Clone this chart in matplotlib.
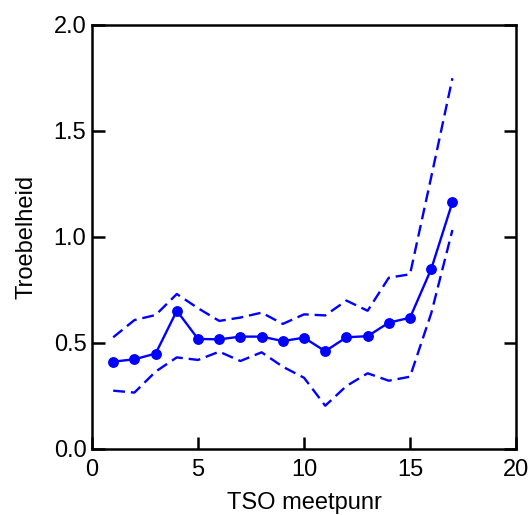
import matplotlib
matplotlib.use("Agg")
import matplotlib.pyplot as plt

plt.rcParams['font.family'] = ['Liberation Sans', 'DejaVu Sans']

x = list(range(1, 18))
mean = [0.412, 0.423, 0.450, 0.652, 0.519, 0.517, 0.530, 0.530, 0.509,
        0.525, 0.461, 0.527, 0.532, 0.596, 0.619, 0.849, 1.164]
upper = [0.527, 0.608, 0.632, 0.731, 0.664, 0.604, 0.620, 0.643, 0.590,
         0.635, 0.630, 0.700, 0.652, 0.808, 0.824, 1.283, 1.749]
lower = [0.275, 0.266, 0.365, 0.432, 0.420, 0.459, 0.415, 0.456, 0.388,
         0.336, 0.204, 0.297, 0.357, 0.322, 0.341, 0.640, 1.033]
xticks = [0, 5, 10, 15, 20]
yticks = [0.0, 0.5, 1.0, 1.5, 2.0]

fig = plt.figure(figsize=(5.31, 5.15), dpi=100)
ax = fig.add_axes([0.1733, 0.1282, 0.7985, 0.8233])

blue = '#0000ff'
ax.plot(x, mean, color=blue, lw=1.7, marker='o', ms=6.8)
ax.plot(x, upper, color=blue, lw=1.7, dashes=(5, 2.5))
ax.plot(x, lower, color=blue, lw=1.7, dashes=(5, 2.5))

ax.set_xlim(0, 20)
ax.set_ylim(0, 2.0)
ax.set_xticks(xticks)
ax.set_yticks(yticks)
ax.set_xticklabels([str(v) for v in xticks])
ax.set_yticklabels([f"{v:.1f}" for v in yticks])
for s in ax.spines.values():
    s.set_linewidth(1.8)
ax.tick_params(direction='in', length=9, width=1.8, labelsize=17, pad=4,
               right=True, top=False)
ax.tick_params(axis='x', pad=7)
ax.set_xlabel('TSO meetpunr', fontsize=17, labelpad=8)
ax.set_ylabel('Troebelheid', fontsize=17, labelpad=12)

fig.savefig('out.png', dpi=100)
